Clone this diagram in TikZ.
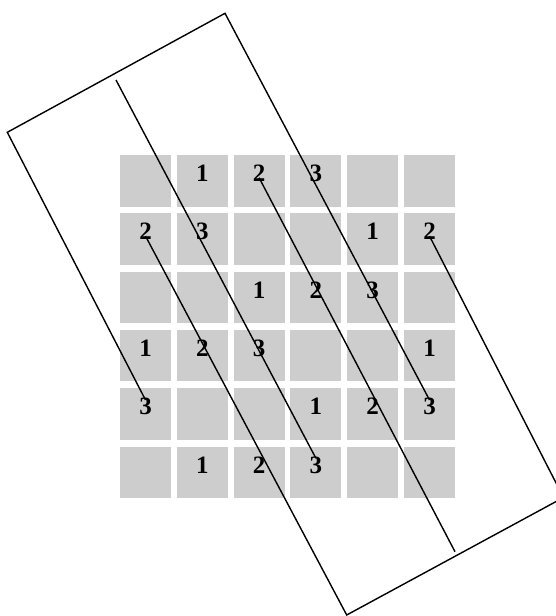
\documentclass[tikz,border=0pt]{standalone}
\usepackage{fontspec}
\setmainfont{Liberation Serif}
\usepackage{tikz}
\usetikzlibrary{positioning}

\definecolor{cellgray}{RGB}{205,205,205}

\begin{document}
\begin{tikzpicture}[
    x=1pt, y=-1pt,
    node distance=6.4pt and 5.4pt,
    cell/.style={fill=cellgray, inner sep=0pt, minimum width=51pt, minimum height=51.5pt,
        text height=17pt, text depth=15.4pt, font=\fontsize{25}{30}\selectfont\bfseries},
    strip/.style={draw=black, line width=1.4pt, line join=miter}
]
\useasboundingbox (0,0) rectangle (556,616);

% row 1
\node[cell] (c11) at (145.5,180.75) {};
\node[cell, right=of c11] (c12) {1};
\node[cell, right=of c12] (c13) {2};
\node[cell, right=of c13] (c14) {3};
\node[cell, right=of c14] (c15) {};
\node[cell, right=of c15] (c16) {};
% row 2
\node[cell, below=of c11] (c21) {2};
\node[cell, right=of c21] (c22) {3};
\node[cell, right=of c22] (c23) {};
\node[cell, right=of c23] (c24) {};
\node[cell, right=of c24] (c25) {1};
\node[cell, right=of c25] (c26) {2};
% row 3
\node[cell, below=of c21] (c31) {};
\node[cell, right=of c31] (c32) {};
\node[cell, right=of c32] (c33) {1};
\node[cell, right=of c33] (c34) {2};
\node[cell, right=of c34] (c35) {3};
\node[cell, right=of c35] (c36) {};
% row 4
\node[cell, below=of c31] (c41) {1};
\node[cell, right=of c41] (c42) {2};
\node[cell, right=of c42] (c43) {3};
\node[cell, right=of c43] (c44) {};
\node[cell, right=of c44] (c45) {};
\node[cell, right=of c45] (c46) {1};
% row 5
\node[cell, below=of c41] (c51) {3};
\node[cell, right=of c51] (c52) {};
\node[cell, right=of c52] (c53) {};
\node[cell, right=of c53] (c54) {1};
\node[cell, right=of c54] (c55) {2};
\node[cell, right=of c55] (c56) {3};
% row 6
\node[cell, below=of c51] (c61) {};
\node[cell, right=of c61] (c62) {1};
\node[cell, right=of c62] (c63) {2};
\node[cell, right=of c63] (c64) {3};
\node[cell, right=of c64] (c65) {};
\node[cell, right=of c65] (c66) {};

% corners of the strip
\coordinate (topL) at (7.3,132.3);
\coordinate (topR) at (225,13.3);
\coordinate (botL) at (346.7,615);
\coordinate (botR) at (563.5,497.5);
\coordinate (midTop) at (116,80);
\coordinate (midBot) at (455,551.7);

% upper border: from the 3 on the left round to the 3 on the right
\draw[strip] ([yshift=14pt]c51.center) -- (topL) -- (topR) -- ([yshift=14pt]c56.center);

% lower border: from the 2 on the left round to the 2 on the right
\draw[strip] ([yshift=3pt]c21.center) -- (botL) -- (botR) -- ([yshift=3pt]c26.center);

% middle lines
\draw[strip] (midTop) -- ([yshift=14pt]c64.center);
\draw[strip] ([yshift=3pt]c13.center) -- (midBot);

\end{tikzpicture}
\end{document}
